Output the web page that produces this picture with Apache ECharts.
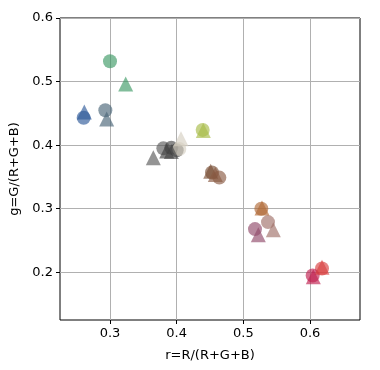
<!DOCTYPE html>
<html>
<head>
<meta charset="utf-8">
<script src="https://cdn.jsdelivr.net/npm/echarts@6/dist/echarts.min.js"></script>
<style>
  html, body { margin: 0; padding: 0; background: #fff; }
  #main { width: 380px; height: 370px; }
</style>
</head>
<body>
<div id="main"></div>
<script>
// chromaticity pairs: circle and triangle for each sample
var circleR = [0.300, 0.2605, 0.293, 0.439, 0.380, 0.392, 0.400, 0.404, 0.453, 0.464, 0.527, 0.537, 0.5175, 0.618, 0.604];
var circleG = [0.532, 0.443, 0.455, 0.424, 0.395, 0.396, 0.392, 0.394, 0.357, 0.349, 0.300, 0.279, 0.268, 0.206, 0.195];
var triR = [0.3235, 0.2615, 0.295, 0.440, 0.365, 0.392, 0.385, 0.4065, 0.451, 0.458, 0.528, 0.545, 0.5225, 0.618, 0.605];
var triG = [0.496, 0.452, 0.441, 0.423, 0.380, 0.390, 0.391, 0.410, 0.359, 0.354, 0.301, 0.267, 0.259, 0.208, 0.193];
var xTicks = [0.3, 0.4, 0.5, 0.6];
var yTicks = [0.2, 0.3, 0.4, 0.5, 0.6];

var colors = ['#3d9a66', '#2f5a9a', '#4a6678', '#a8bc48', '#5a5a5a', '#4a4a4a', '#3e3e3e', '#d6cfc2',
              '#7a5038', '#8a5a44', '#b06a38', '#a07068', '#904a6a', '#d84040', '#c02050'];

function pts(xs, ys) {
    return xs.map(function (x, i) {
        return { value: [x, ys[i]], itemStyle: { color: colors[i] } };
    });
}

var chart = echarts.init(document.getElementById('main'));
var labelStyle = { color: '#000', fontSize: 13, fontFamily: 'DejaVu Sans' };

chart.setOption({
    animation: false,
    backgroundColor: '#fff',
    grid: {
        left: 60, right: 20, top: 18, bottom: 50, outerBoundsMode: 'none', containLabel: false,
        show: true, borderColor: '#000', borderWidth: 1
    },
    xAxis: {
        type: 'value', min: 0.225, max: 0.675,
        name: 'r=R/(R+G+B)', nameLocation: 'middle', nameGap: 29,
        nameTextStyle: labelStyle,
        axisLine: { show: false },
        axisTick: { show: true, length: 4, customValues: xTicks, lineStyle: { color: '#000' } },
        axisLabel: Object.assign({ customValues: xTicks, margin: 7, formatter: function (v) { return v.toFixed(1); } }, labelStyle),
        splitLine: { show: true, lineStyle: { color: '#b0b0b0', width: 1 } }
    },
    yAxis: {
        type: 'value', min: 0.125, max: 0.6,
        name: 'g=G/(R+G+B)', nameLocation: 'middle', nameGap: 36,
        nameTextStyle: labelStyle,
        axisLine: { show: false },
        axisTick: { show: true, length: 4, customValues: yTicks, lineStyle: { color: '#000' } },
        axisLabel: Object.assign({ customValues: yTicks, margin: 7, formatter: function (v) { return v.toFixed(1); } }, labelStyle),
        splitLine: { show: true, lineStyle: { color: '#b0b0b0', width: 1 } }
    },
    series: [
        { type: 'scatter', symbol: 'circle', symbolSize: 14, itemStyle: { opacity: 0.65 }, data: pts(circleR, circleG) },
        { type: 'scatter', symbol: 'triangle', symbolSize: 15, itemStyle: { opacity: 0.65 }, data: pts(triR, triG) }
    ]
});
</script>
</body>
</html>
